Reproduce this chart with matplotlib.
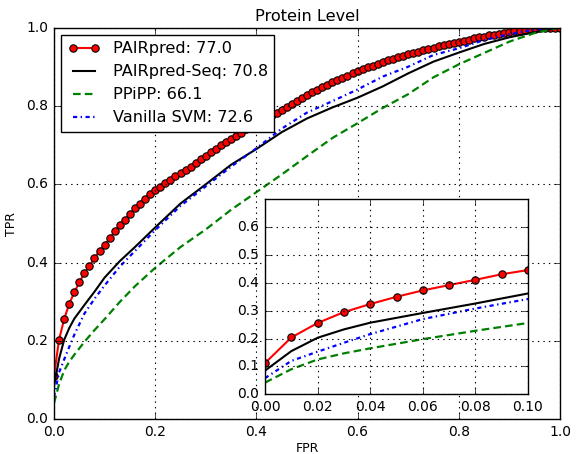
import numpy as np
import matplotlib
matplotlib.use("Agg")
import matplotlib.pyplot as plt

plt.style.use("classic")
plt.rcParams["font.family"] = ["DejaVu Sans"]

# ---- data ----
fpr_red = [round(0.01 * i, 2) for i in range(101)]
tpr_pairpred = [
    0.112, 0.204, 0.256, 0.295, 0.324, 0.350, 0.373, 0.392, 0.411, 0.431,
    0.446, 0.462, 0.480, 0.496, 0.510, 0.524, 0.539, 0.551, 0.562, 0.574,
    0.585, 0.594, 0.603, 0.611, 0.620, 0.628, 0.637, 0.645, 0.655, 0.664,
    0.673, 0.682, 0.691, 0.700, 0.708, 0.716, 0.724, 0.732, 0.740, 0.748,
    0.755, 0.762, 0.769, 0.776, 0.783, 0.790, 0.798, 0.805, 0.813, 0.821,
    0.828, 0.835, 0.841, 0.847, 0.854, 0.860, 0.866, 0.872, 0.877, 0.883,
    0.888, 0.893, 0.898, 0.903, 0.908, 0.912, 0.916, 0.920, 0.924, 0.928,
    0.932, 0.935, 0.938, 0.942, 0.946, 0.949, 0.952, 0.955, 0.958, 0.960,
    0.963, 0.966, 0.969, 0.972, 0.975, 0.977, 0.980, 0.982, 0.984, 0.986,
    0.988, 0.990, 0.992, 0.994, 0.996, 0.997, 0.998, 0.999, 1.000, 1.000,
    1.000,
]

fpr_other = [0.0, 0.01, 0.02, 0.03, 0.04, 0.06, 0.08, 0.10, 0.13, 0.16, 0.20,
             0.25, 0.30, 0.35, 0.40, 0.45, 0.50, 0.55, 0.60, 0.65, 0.70,
             0.75, 0.80, 0.85, 0.90, 0.95, 1.0]
tpr_seq = [0.085, 0.155, 0.203, 0.233, 0.257, 0.292, 0.326, 0.362, 0.404,
           0.440, 0.490, 0.551, 0.600, 0.650, 0.690, 0.733, 0.768, 0.796,
           0.821, 0.850, 0.883, 0.913, 0.936, 0.958, 0.975, 0.988, 1.0]
tpr_ppipp = [0.042, 0.090, 0.125, 0.147, 0.165, 0.198, 0.228, 0.256, 0.300,
             0.340, 0.387, 0.440, 0.485, 0.535, 0.580, 0.625, 0.672, 0.718,
             0.756, 0.795, 0.830, 0.873, 0.906, 0.935, 0.964, 0.986, 1.0]
tpr_svm = [0.058, 0.120, 0.153, 0.185, 0.216, 0.270, 0.308, 0.342, 0.390,
           0.430, 0.483, 0.545, 0.595, 0.645, 0.692, 0.742, 0.783, 0.812,
           0.842, 0.875, 0.900, 0.930, 0.947, 0.968, 0.983, 0.995, 1.0]

labels = ["PAIRpred: 77.0", "PAIRpred-Seq: 70.8", "PPiPP: 66.1", "Vanilla SVM: 72.6"]
title = "Protein Level"


def draw(ax):
    ax.plot(fpr_red, tpr_pairpred, color="r", lw=1.5, marker="o", ms=5.3,
            mfc="r", mec="k", mew=0.8, label=labels[0])
    ax.plot(fpr_other, tpr_seq, color="k", lw=1.5, ls="-", label=labels[1])
    ax.plot(fpr_other, tpr_ppipp, color="g", lw=1.6, ls=(0, (5.5, 3.0)),
            label=labels[2])
    ax.plot(fpr_other, tpr_svm, color="b", lw=1.6, ls=(0, (3.0, 2.5, 1.0, 2.5)),
            label=labels[3])


fig = plt.figure(figsize=(5.84, 4.54), dpi=100, facecolor="white")
ax = fig.add_axes([0.0925, 0.076, 0.8664, 0.8634])
draw(ax)
ax.set_xlim(0, 1)
ax.set_ylim(0, 1)
ax.set_xticks(np.arange(0, 1.01, 0.2))
ax.set_yticks(np.arange(0, 1.01, 0.2))
ax.tick_params(labelsize=10)
ax.grid(True, color="k", ls=":", lw=0.8)
ax.set_xlabel("FPR", fontsize=9, labelpad=2)
ax.set_ylabel("TPR", fontsize=9, labelpad=6)
ax.set_title(title, fontsize=11.6, pad=4.5)
leg = ax.legend(loc="upper left", fontsize=11.6, numpoints=2, handlelength=2.0,
                borderpad=0.4, labelspacing=0.5, handletextpad=0.8,
                borderaxespad=0.45)
leg.get_frame().set_linewidth(1.0)

ins = fig.add_axes([0.4538, 0.1315, 0.4503, 0.4295])
ins.set_facecolor("white")
draw(ins)
ins.set_xlim(0, 0.1)
ins.set_ylim(0, 0.7)
ins.set_xticks(np.arange(0, 0.101, 0.02))
ins.set_yticks(np.arange(0, 0.61, 0.1))
ins.xaxis.set_major_formatter(matplotlib.ticker.FormatStrFormatter("%.2f"))
ins.yaxis.set_major_formatter(matplotlib.ticker.FormatStrFormatter("%.1f"))
ins.tick_params(labelsize=10)
ins.grid(True, color="k", ls=":", lw=0.8)

fig.savefig("out.png", dpi=100, facecolor="white")
